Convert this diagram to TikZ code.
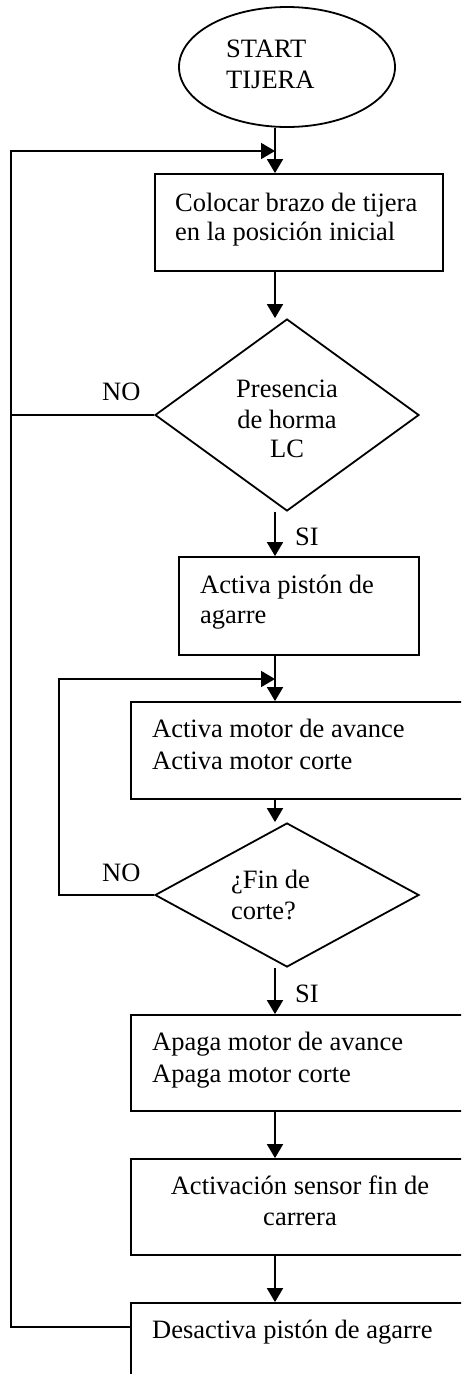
\documentclass[tikz,border=0pt]{standalone}
\usepackage{fontspec}
\setmainfont{Liberation Serif}
\usetikzlibrary{arrows.meta,shapes.geometric}
\tikzset{
  every node/.style={font=\fontsize{26.5}{31}\selectfont},
  stepbox/.style={draw, rectangle, line width=1.8pt, inner sep=0pt},
  decision/.style={draw, diamond, line width=1.8pt, inner sep=0pt, aspect=1},
  terminal/.style={draw, ellipse, line width=1.8pt, inner sep=0pt},
  txt/.style={inner sep=0pt, anchor=base west},
  ctxt/.style={inner sep=0pt, anchor=base},
  flow/.style={line width=1.8pt, -{Triangle[length=14pt,width=16pt]}},
  wire/.style={line width=1.8pt}
}
\begin{document}
\begin{tikzpicture}[x=1pt, y=-1pt]
\path[use as bounding box, clip] (0,0) rectangle (461,1374);
\fill[white] (0,0) rectangle (461,1374);

% main column and return points
\coordinate (col) at (275,0);
\coordinate (ret) at (11,1327);
\coordinate (j1) at (275,151);
\coordinate (j2) at (275,679);
\coordinate (loop2) at (59,0);

% shapes
\node[terminal, minimum width=216pt, minimum height=120pt] (start) at (287,67) {};
\node[txt] (st1) at (226,57) {START};
\node[txt] (st2) at (226,88) {TIJERA};

\node[stepbox, minimum width=288pt, minimum height=97pt] (b1) at (299,222.5) {};
\node[txt] (b1a) at (175,211) {Colocar brazo de tijera};
\node[txt] (b1b) at (175,240) {en la posición inicial};

\node[decision, minimum width=264pt, minimum height=192pt] (d1) at (287,415) {};
\node[ctxt] (d1a) at (287,397) {Presencia};
\node[ctxt] (d1b) at (287,428) {de horma};
\node[ctxt] (d1c) at (287,457) {LC};

\node[stepbox, minimum width=240pt, minimum height=98pt] (b2) at (299,606) {};
\node[txt] (b2a) at (200,593) {Activa pistón de};
\node[txt] (b2b) at (200,623) {agarre};

\node[stepbox, minimum width=338pt, minimum height=97pt] (b3) at (300,750.5) {};
\node[txt] (b3a) at (152,737) {Activa motor de avance};
\node[txt] (b3b) at (152,769) {Activa motor corte};

\node[decision, minimum width=264pt, minimum height=144pt] (d2) at (287,895) {};
\node[txt] (d2a) at (231,888) {¿Fin de};
\node[txt] (d2b) at (231,919) {corte?};

\node[stepbox, minimum width=338pt, minimum height=96pt] (b4) at (300,1063) {};
\node[txt] (b4a) at (152,1050) {Apaga motor de avance};
\node[txt] (b4b) at (152,1082) {Apaga motor corte};

\node[stepbox, minimum width=338pt, minimum height=96pt] (b5) at (300,1207) {};
\node[ctxt] (b5a) at (300,1194) {Activación sensor fin de};
\node[ctxt] (b5b) at (300,1225) {carrera};

\node[stepbox, minimum width=338pt, minimum height=97pt] (b6) at (300,1351.5) {};
\node[txt] (b6a) at (152,1338) {Desactiva pistón de agarre};

% branch labels
\node[txt] (no1) at (102,400) {NO};
\node[txt] (si1) at (295,545) {SI};
\node[txt] (no2) at (102,881) {NO};
\node[txt] (si2) at (295,1002) {SI};

% main flow
\draw[flow] (start.south -| col) -- (b1.north -| col);
\draw[flow] (b1.south -| col) -- (d1.north -| col);
\draw[flow] (d1.south -| col) -- (b2.north -| col);
\draw[flow] (b2.south -| col) -- (b3.north -| col);
\draw[flow] (b3.south -| col) -- (d2.north -| col);
\draw[flow] (d2.south -| col) -- (b4.north -| col);
\draw[flow] (b4.south -| col) -- (b5.north -| col);
\draw[flow] (b5.south -| col) -- (b6.north -| col);

% return loops
\draw[flow] (ret -| b6.west) -- (ret) |- (j1);
\draw[wire] (d1.west) -- (d1.west -| ret);
\draw[flow] (d2.west) -- (d2.west -| loop2) |- (j2);
\end{tikzpicture}
\end{document}
